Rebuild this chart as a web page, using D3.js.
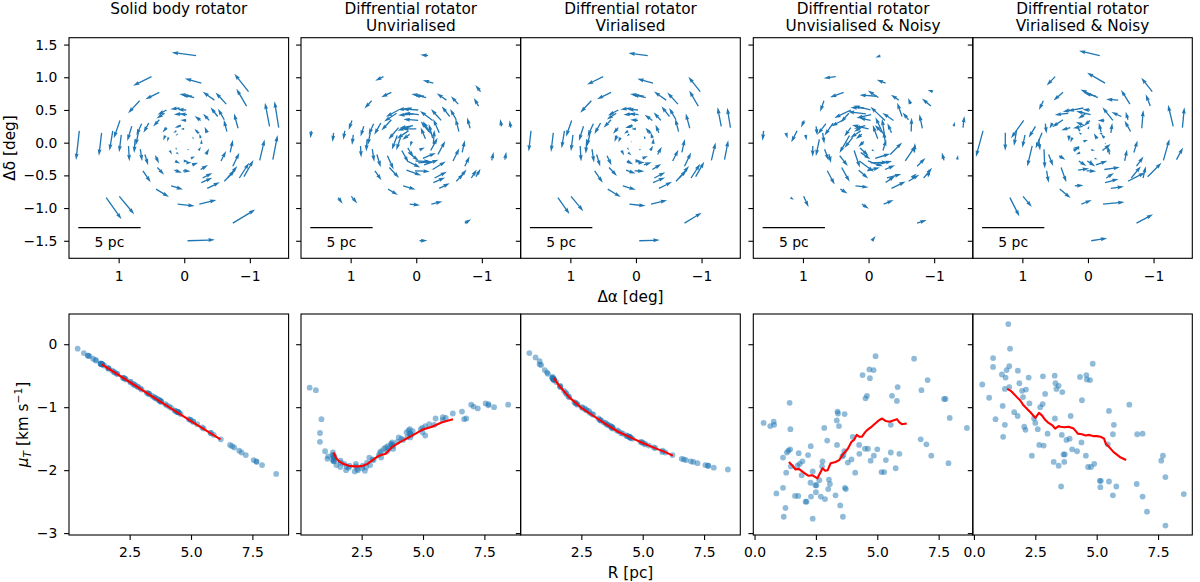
<!DOCTYPE html>
<html><head><meta charset="utf-8">
<script src="https://cdn.jsdelivr.net/npm/d3@7"></script>
<style>body{margin:0;background:#fff}</style>
</head><body>
<svg id="c" width="1200" height="582" xmlns="http://www.w3.org/2000/svg"></svg>
<script>
// ---------------- DATA ----------------
const titles = [["Solid body rotator"], ["Diffrential rotator", "Unvirialised"], ["Diffrential rotator", "Virialised"],
  ["Diffrential rotator", "Unvisialised & Noisy"], ["Diffrential rotator", "Virialised & Noisy"]];

// star offsets on the sky (deg)
const starRA = [-0.18,0.50,-0.26,-0.98,0.38,-0.15,-0.12,-0.46,-0.64,-0.95,
 -1.30,-1.44,0.68,0.98,1.09,1.26,1.60,0.96,0.65,0.38,
 0.27,0.30,0.07,0.04,0.27,0.54,0.70,0.29,0.12,0.08,
 -0.51,-0.61,-0.82,-0.65,-0.38,-0.25,-0.35,-0.03,-0.04,-0.03,
 0.00,-0.20,-0.25,-0.26,0.01,-0.03,0.02,-0.25,-0.28,-0.26,
 -0.35,0.10,-0.23,-0.74,-0.05,-0.61,-0.66,-0.84,-0.91,-0.74,
 -0.56,-1.15,-1.35,-0.33,1.19,0.99,0.67,0.60,0.63,0.44,
 0.41,0.43,0.20,0.14,0.12,0.15,-0.12,0.80,0.75,0.85,
 -0.70,0.07,-0.05,0.13,-0.14,0.10,0.22,-0.22,0.24,-0.10,
 0.05,-0.22];
const starDec = [1.33,1.01,0.91,0.78,0.77,0.69,0.71,0.65,0.59,0.56,
 0.25,0.23,0.64,0.34,0.18,0.15,0.18,0.12,0.29,0.35,
 0.50,0.45,0.53,0.44,0.23,0.30,0.15,0.11,0.18,0.25,
 0.40,0.35,0.22,0.17,0.34,0.34,0.15,0.50,0.43,0.34,
 0.21,0.16,0.07,-0.02,-0.28,-0.31,-0.43,-0.41,-0.54,-0.61,
 -0.70,-0.94,-0.94,-1.23,-1.50,-0.59,-0.54,-0.54,-0.52,-0.36,
 -0.28,-0.27,-0.26,-0.18,-0.84,-0.82,-0.10,-0.18,-0.43,-0.20,
 -0.38,-0.71,-0.66,-0.28,-0.15,-0.42,-0.34,0.25,0.05,-0.05,
 -0.15,0.02,-0.11,-0.08,0.06,0.13,-0.12,-0.12,0.08,-0.24,
 0.26,0.14];

// tangential velocity mu_T (km/s) per star
const muSolid = [-1.72,-1.44,-1.20,-1.60,-1.09,-0.89,-0.91,-1.01,-1.11,-1.41,
 -1.69,-1.87,-1.19,-1.32,-1.41,-1.62,-2.06,-1.23,-0.90,-0.65,
 -0.72,-0.68,-0.67,-0.55,-0.44,-0.78,-0.91,-0.38,-0.26,-0.32,
 -0.82,-0.89,-1.08,-0.85,-0.64,-0.53,-0.47,-0.63,-0.54,-0.42,
 -0.25,-0.31,-0.32,-0.32,-0.34,-0.38,-0.54,-0.60,-0.77,-0.84,
 -0.99,-1.20,-1.23,-1.84,-1.92,-1.08,-1.08,-1.27,-1.34,-1.05,
 -0.79,-1.51,-1.76,-0.47,-1.86,-1.64,-0.86,-0.79,-0.97,-0.60,
 -0.70,-1.06,-0.87,-0.39,-0.23,-0.56,-0.45,-1.07,-0.95,-1.08,
 -0.91,-0.07,-0.14,-0.18,-0.18,-0.19,-0.31,-0.31,-0.31,-0.32,
 -0.32,-0.32];
const muDiffUnvir = [-0.99,-1.17,-1.40,-1.07,-1.44,-1.60,-1.66,-1.52,-1.38,-1.20,
 -0.96,-0.95,-1.35,-1.28,-1.16,-1.19,-0.96,-1.30,-1.56,-1.88,
 -1.84,-1.92,-1.80,-1.98,-2.00,-1.72,-1.62,-1.95,-1.78,-1.83,
 -1.66,-1.58,-1.42,-1.70,-1.95,-2.02,-1.93,-2.01,-1.94,-1.90,
 -1.82,-1.77,-1.86,-1.80,-1.92,-1.85,-1.90,-1.97,-1.76,-1.64,
 -1.50,-1.33,-1.45,-0.94,-1.00,-1.35,-1.42,-1.27,-1.18,-1.40,
 -1.80,-1.10,-1.02,-1.96,-0.97,-1.18,-1.62,-1.70,-1.48,-1.93,
 -1.83,-1.47,-1.66,-1.88,-1.70,-2.00,-1.95,-1.37,-1.55,-1.48,
 -1.60,-0.69,-0.73,-1.41,-1.55,-1.19,-1.76,-1.84,-1.72,-1.80,
 -1.78,-1.86];
const muDiffVir = [-1.87,-1.72,-1.56,-1.82,-1.49,-1.31,-1.34,-1.42,-1.50,-1.71,
 -1.86,-1.93,-1.55,-1.64,-1.69,-1.83,-1.99,-1.59,-1.33,-1.05,
 -1.12,-1.09,-1.06,-0.95,-0.77,-1.20,-1.32,-0.66,-0.47,-0.56,
 -1.24,-1.30,-1.47,-1.27,-1.04,-0.92,-0.84,-1.02,-0.94,-0.74,
 -0.45,-0.55,-0.56,-0.55,-0.60,-0.67,-0.93,-1.00,-1.18,-1.25,
 -1.41,-1.56,-1.58,-1.92,-1.96,-1.47,-1.48,-1.61,-1.65,-1.45,
 -1.21,-1.76,-1.89,-0.83,-1.93,-1.84,-1.28,-1.21,-1.38,-1.01,
 -1.11,-1.46,-1.29,-0.68,-0.41,-0.96,-0.79,-1.46,-1.37,-1.48,
 -1.32,-0.14,-0.21,-0.27,-0.32,-0.33,-0.53,-0.54,-0.52,-0.56,
 -0.57,-0.55];
// observational noise on the arrows of the noisy panels (tangential, radial; km/s)
const noiseT4 = [0.4,-0.3,0.2,0.5,-0.4,0.1,-0.5,0.3,0.6,-0.2,0.4,-0.5,0.0,0.3,-0.4,0.5,-0.3,0.6,-0.1,0.2,
 -0.5,0.4,0.1,-0.3,0.6,-0.2,0.3,-0.6,0.2,0.5,-0.1,0.4,-0.4,0.0,0.3,-0.5,0.6,-0.2,0.1,0.4,
 -0.3,0.5,-0.6,0.2,0.0,-0.4,0.3,0.6,-0.1,0.2,-0.5,0.4,0.1,-0.3,0.5,-0.2,0.6,-0.4,0.3,0.0,
 -0.6,0.2,0.4,-0.1,0.5,-0.3,0.1,0.6,-0.5,0.3,-0.2,0.4,0.0,-0.4,0.2,0.5,-0.1,0.3,-0.6,0.1,
 0.4,-0.2,0.5,0.0,-0.3,0.2,-0.5,0.4,0.1,-0.2,0.3,-0.4];
const noiseR4 = [-0.3,0.5,0.1,-0.4,0.2,0.6,-0.2,0.0,0.3,-0.5,0.2,0.4,-0.6,0.1,0.5,-0.3,0.0,-0.2,0.4,0.6,
 0.1,-0.4,0.3,0.5,-0.1,0.2,-0.5,0.4,0.0,-0.3,0.6,-0.2,0.1,0.5,-0.4,0.3,0.0,0.4,-0.6,0.2,
 0.5,-0.1,0.3,-0.4,0.6,0.1,-0.5,0.2,0.4,-0.3,0.0,0.5,-0.2,0.3,-0.6,0.4,0.1,0.2,-0.4,0.5,
 0.3,-0.5,0.0,0.6,-0.2,0.4,-0.3,0.1,0.2,-0.4,0.5,0.0,-0.3,0.4,-0.1,0.6,0.2,-0.5,0.3,0.1,
 -0.2,0.5,0.3,-0.4,0.1,0.0,0.4,-0.3,0.6,0.2,-0.1,0.3];
const noiseT5 = [-0.2,0.6,-0.4,0.1,0.3,-0.5,0.2,0.4,-0.1,0.5,-0.3,0.0,0.6,-0.4,0.2,0.1,-0.6,0.3,0.5,-0.2,
 0.4,-0.1,-0.5,0.2,0.0,0.6,-0.3,0.1,0.4,-0.4,0.3,0.5,-0.2,0.1,-0.6,0.4,0.0,0.3,-0.5,0.2,
 0.6,-0.3,0.1,0.4,-0.2,0.5,0.0,-0.4,0.3,-0.1,0.2,0.6,-0.5,0.1,0.4,-0.3,0.0,0.5,-0.2,0.3,
 0.1,-0.4,0.6,0.2,-0.1,0.5,-0.6,0.0,0.3,0.4,-0.3,0.1,0.5,-0.2,0.6,0.0,-0.4,0.2,0.3,-0.5,
 0.1,0.4,-0.1,0.6,-0.3,0.2,0.5,-0.4,0.0,0.3,-0.2,0.4];
const noiseR5 = [0.2,-0.4,0.5,0.0,-0.3,0.4,0.1,-0.6,0.3,0.2,-0.1,0.5,-0.3,0.6,0.0,-0.2,0.4,0.1,-0.5,0.3,
 0.2,0.6,-0.1,-0.4,0.5,0.0,0.3,-0.2,0.4,0.1,-0.5,0.2,0.6,-0.3,0.1,-0.4,0.5,0.0,0.2,-0.6,
 0.3,0.4,-0.2,0.1,0.5,-0.3,0.0,0.6,-0.1,0.2,0.4,-0.5,0.3,0.1,-0.2,0.6,0.0,-0.4,0.5,0.2,
 -0.3,0.1,0.4,-0.6,0.3,0.0,0.2,-0.1,0.5,-0.4,0.6,0.2,-0.3,0.1,0.4,-0.5,0.0,0.3,-0.2,0.6,
 0.1,-0.4,0.2,0.5,-0.1,0.3,-0.6,0.4,0.0,0.2,0.5,-0.3];

// noisy scatter panels (R [pc], mu_T [km/s])
const noisyUnvirR = [0.37,0.64,0.78,0.80,0.89,1.16,1.16,1.19,1.26,1.29,1.32,1.38,1.43,1.45,1.46,1.48,1.65,1.78,1.75,1.80,
 1.84,1.92,1.95,2.08,2.12,2.18,2.28,2.29,2.30,2.37,2.37,2.48,2.52,2.50,2.64,2.70,2.75,2.77,2.84,2.87,
 2.96,3.00,3.03,3.07,3.30,3.36,3.35,3.38,3.40,3.44,3.49,3.58,3.60,3.62,3.66,3.67,3.68,3.72,3.80,3.95,
 4.00,4.10,4.26,4.27,4.40,4.50,4.62,4.52,4.58,4.68,4.70,4.73,4.85,4.86,4.93,5.00,5.17,5.28,5.35,5.55,
 5.55,5.60,5.75,5.80,5.83,5.90,6.50,6.77,6.80,7.00,7.05,7.20,7.72,7.78,7.90,7.95,8.65];
const noisyUnvirMu = [-1.25,-1.30,-1.23,-1.28,-2.37,-2.28,-1.80,-2.74,-2.60,-2.04,-1.72,-1.69,-0.93,-1.67,-1.35,-1.94,-2.41,-2.41,-1.93,-1.73,
 -1.90,-2.08,-1.86,-2.50,-2.50,-1.76,-2.20,-1.62,-2.42,-2.02,-2.77,-2.24,-2.24,-2.35,-2.16,-2.42,-1.94,-1.86,-1.33,-2.46,
 -1.53,-2.30,-2.15,-2.22,-2.40,-1.60,-1.21,-1.07,-1.10,-1.30,-2.56,-1.78,-2.74,-1.76,-1.70,-1.11,-2.28,-2.30,-1.88,-1.83,
 -1.47,-2.04,-1.60,-1.74,-0.49,-1.66,-1.66,-0.86,-0.82,-0.40,-0.54,-1.85,-0.41,-1.77,-0.19,-1.67,-2.03,-2.03,-1.84,-1.28,
 -1.72,-0.82,-1.97,-0.90,-0.68,-1.74,-0.23,-1.51,-0.73,-1.59,-0.57,-1.77,-0.87,-0.87,-1.89,-1.17,-1.33];
const noisyVirR = [0.34,0.62,0.78,0.78,0.88,1.14,1.17,1.19,1.26,1.26,1.29,1.33,1.40,1.44,1.44,1.47,1.64,1.78,1.79,1.85,
 1.96,2.00,2.05,2.10,2.12,2.23,2.26,2.36,2.45,2.50,2.60,2.66,2.70,2.80,2.81,2.84,2.90,3.00,3.25,3.29,
 3.30,3.32,3.36,3.45,3.45,3.55,3.58,3.60,3.65,3.68,3.70,3.77,3.90,3.94,4.00,4.20,4.32,4.38,4.40,4.56,
 4.58,4.60,4.65,4.73,4.77,4.84,4.90,5.13,5.15,5.17,5.45,5.50,5.50,5.66,5.66,5.70,5.80,6.33,6.63,6.65,
 6.87,6.87,7.05,7.63,7.70,7.80,7.80,8.55];
const noisyVirMu = [-0.64,-0.85,-0.36,-0.22,-1.19,-0.48,-0.98,-1.47,-1.28,-0.71,-0.53,-0.41,0.32,-0.35,-0.68,-0.07,-1.08,-1.14,-0.42,-0.62,
 -0.74,-0.84,-1.31,-1.36,-0.72,-0.53,-0.94,-1.77,-1.18,-1.25,-1.35,-1.60,-1.00,-0.95,-0.51,-1.61,-0.79,-1.42,-1.87,-0.50,
 -1.18,-0.62,-0.71,-0.66,-1.93,-2.26,-1.44,-0.76,-1.75,-1.87,-1.75,-1.52,-1.50,-1.14,-1.67,-1.70,-0.52,-1.56,-0.89,-1.77,
 -0.49,-0.56,-1.95,-0.57,-1.95,-0.31,-1.90,-2.17,-2.27,-2.17,-1.59,-1.06,-2.18,-2.40,-1.43,-1.28,-2.26,-0.96,-2.22,-1.43,
 -1.42,-2.42,-2.66,-1.85,-1.77,-2.11,-2.88,-2.38];

// running-median lines (red)
const medSolidR = [1.37, 2.5, 3.75, 5.0, 6.2];
const medSolidMu = [-0.32, -0.60, -0.91, -1.22, -1.51];
const medUnvirR = [1.35,1.45,1.58,1.75,1.98,2.2,2.39,2.55,2.73,2.95,3.2,3.48,3.74,4.08,4.42,4.7,4.96,5.37,5.78,6.22];
const medUnvirMu = [-1.72,-1.80,-1.86,-1.90,-1.93,-1.94,-1.94,-1.93,-1.90,-1.84,-1.77,-1.74,-1.63,-1.55,-1.48,-1.42,-1.36,-1.31,-1.24,-1.19];
const medVirR = [1.38,1.6,2.0,2.5,3.0,3.5,4.0,4.5,5.0,5.5,5.9,6.23];
const medVirMu = [-0.54,-0.66,-0.84,-1.01,-1.14,-1.27,-1.39,-1.48,-1.57,-1.65,-1.71,-1.77];
const medNoisyUnvirR = [1.4,1.55,1.67,1.8,1.94,2.05,2.2,2.35,2.56,2.65,2.77,2.88,2.98,3.1,3.3,3.45,3.6,3.8,3.95,4.05,4.16,4.28,4.37,4.5,4.6,4.8,5.0,5.1,5.2,5.35,5.5,5.65,5.8,5.9,6.0,6.2];
const medNoisyUnvirMu = [-1.87,-1.93,-1.99,-1.98,-2.02,-2.05,-2.09,-2.08,-2.13,-2.06,-1.97,-2.01,-2.0,-1.89,-1.87,-1.84,-1.75,-1.66,-1.55,-1.52,-1.44,-1.47,-1.47,-1.40,-1.36,-1.30,-1.23,-1.20,-1.18,-1.22,-1.23,-1.21,-1.19,-1.24,-1.27,-1.26];
const medNoisyVirR = [1.36,1.5,1.6,1.75,1.88,2.0,2.15,2.3,2.5,2.65,2.77,2.9,3.04,3.2,3.31,3.45,3.52,3.7,3.86,4.06,4.15,4.23,4.4,4.55,4.7,4.89,5.0,5.16,5.3,5.37,5.5,5.68,5.85,5.98,6.2];
const medNoisyVirMu = [-0.71,-0.74,-0.78,-0.84,-0.89,-0.96,-1.02,-1.08,-1.17,-1.09,-1.13,-1.20,-1.25,-1.29,-1.34,-1.30,-1.31,-1.32,-1.31,-1.34,-1.38,-1.42,-1.43,-1.45,-1.44,-1.46,-1.46,-1.47,-1.50,-1.58,-1.63,-1.71,-1.76,-1.80,-1.84];

const topXTicks = [1, 0, -1];
const topYTicks = [1.5, 1.0, 0.5, 0.0, -0.5, -1.0, -1.5];
const botYTicks = [0, -1, -2, -3];
const botXTicks = [[2.5,5.0,7.5],[2.5,5.0,7.5],[2.5,5.0,7.5],[0.0,2.5,5.0,7.5],[0.0,2.5,5.0,7.5]];
const pcPerDeg = 5.26;

// ---------------- LAYOUT ----------------
const FONT = '"DejaVu Sans", sans-serif';
const BLUE = '#1f77b4';
const svg = d3.select('#c');
const colX = [69, 301, 520.7, 753.3, 972.7];
const PW = 219.6;
const topY = 37.7, topH = 220.6, botY = 314, botH = 221;
const TICK = 4.9, LW = 1.1;
const minus = s => s.replace(/-/g, '\u2212');

function styleAxis(g){
  g.select('.domain').remove();
  g.attr('font-family', null).attr('font-size', null);
  g.selectAll('line').attr('stroke', '#000').attr('stroke-width', LW);
  g.selectAll('text').attr('font-family', FONT).attr('font-size', 13.9).attr('fill', '#000');
}
function frame(x0, y0, w, h){
  svg.append('rect').attr('x', x0).attr('y', y0).attr('width', w).attr('height', h)
    .attr('fill', 'none').attr('stroke', '#000').attr('stroke-width', LW);
}

const defs = svg.append('defs');

// -------- top row: quiver --------
const velT = [muSolid, muDiffUnvir, muDiffVir, muDiffUnvir.map((m,i)=>m+noiseT4[i]), muDiffVir.map((m,i)=>m+noiseT5[i])];
const velR = [null, null, null, noiseR4, noiseR5];

function arrowPath(L, w){
  const hl = 5*w, hal = 4.5*w, hw = 1.5*w, sw = w/2;
  let s = 1, Lp = L;
  if (L < hl){ s = L/hl; Lp = hl; }
  const pts = [[0,-sw],[Lp-hal,-sw],[Lp-hl,-hw],[Lp,0],[Lp-hl,hw],[Lp-hal,sw],[0,sw]];
  return 'M' + pts.map(p => (p[0]*s).toFixed(2)+','+(p[1]*s).toFixed(2)).join('L') + 'Z';
}

for (let p = 0; p < 5; p++){
  const x0 = colX[p];
  const x = d3.scaleLinear().domain([1.757, 1.757 - PW/65.6]).range([x0, x0+PW]);
  const y = d3.scaleLinear().domain([-1.768, 1.605]).range([topY+topH, topY]);
  const cid = 'clipT'+p;
  defs.append('clipPath').attr('id', cid).append('rect').attr('x', x0).attr('y', topY).attr('width', PW).attr('height', topH);
  const g = svg.append('g').attr('clip-path', `url(#${cid})`);
  const N = starRA.length;
  const vecs = starRA.map((ra, i) => {
    const dec = starDec[i];
    const R = Math.hypot(ra, dec);
    const sx = -ra/R, sy = dec/R;
    const tx = -sy, ty = sx;
    const vt = -velT[p][i];
    const vr = velR[p] ? velR[p][i] : 0;
    return {ra, dec, vx: vt*tx + vr*sx, vy: vt*ty + vr*sy};
  });
  const amean = d3.mean(vecs, v => Math.hypot(v.vx, v.vy));
  const sn = Math.max(10, Math.sqrt(N));
  const k = PW / (1.8 * amean * sn);
  const w = 0.06 * PW / sn;
  g.selectAll('path.arr').data(vecs).join('path').attr('class', 'arr')
    .attr('d', v => arrowPath(Math.hypot(v.vx, v.vy)*k, w))
    .attr('transform', v => `translate(${x(v.ra)},${y(v.dec)}) rotate(${Math.atan2(-v.vy, v.vx)*180/Math.PI})`)
    .attr('fill', BLUE);
  // scale bar
  svg.append('line').attr('x1', x(1.615)).attr('x2', x(0.665)).attr('y1', y(-1.30)).attr('y2', y(-1.30))
    .attr('stroke', '#000').attr('stroke-width', 1.3);
  svg.append('text').attr('x', x(1.14)).attr('y', y(-1.59)).attr('text-anchor', 'middle')
    .attr('font-family', FONT).attr('font-size', 13.9).text('5 pc');
  // axes
  const ax = svg.append('g').attr('transform', `translate(0,${topY+topH})`)
    .call(d3.axisBottom(x).tickValues(topXTicks).tickSize(TICK).tickPadding(7.7).tickFormat(d => minus(d3.format('d')(d))));
  styleAxis(ax);
  const ay = svg.append('g').attr('transform', `translate(${x0},0)`)
    .call(d3.axisLeft(y).tickValues(topYTicks).tickSize(TICK).tickPadding(6.8).tickFormat(d => p === 0 ? minus(d3.format('.1f')(d)) : ''));
  styleAxis(ay);
  frame(x0, topY, PW, topH);
  // title
  const t = svg.append('text').attr('text-anchor', 'middle').attr('font-family', FONT).attr('font-size', 15.3);
  titles[p].forEach((line, j) => t.append('tspan').attr('x', x0 + PW/2).attr('y', 14.4 + j*17.0).text(line));
}

// -------- bottom row: scatter --------
const starR = starRA.map((ra, i) => Math.hypot(ra, starDec[i]) * pcPerDeg);
const scat = [
  {r: starR, mu: muSolid, mr: medSolidR, mm: medSolidMu},
  {r: starR, mu: muDiffUnvir, mr: medUnvirR, mm: medUnvirMu},
  {r: starR, mu: muDiffVir, mr: medVirR, mm: medVirMu},
  {r: noisyUnvirR, mu: noisyUnvirMu, mr: medNoisyUnvirR, mm: medNoisyUnvirMu},
  {r: noisyVirR, mu: noisyVirMu, mr: medNoisyVirR, mm: medNoisyVirMu}
];
for (let p = 0; p < 5; p++){
  const x0 = colX[p];
  const lo = p < 3 ? 0.03 : -0.05;
  const x = d3.scaleLinear().domain([lo, lo + PW/24.55]).range([x0, x0+PW]);
  const y = d3.scaleLinear().domain([-3.03, 0.48]).range([botY+botH, botY]);
  const cid = 'clipB'+p;
  defs.append('clipPath').attr('id', cid).append('rect').attr('x', x0).attr('y', botY).attr('width', PW).attr('height', botH);
  const g = svg.append('g').attr('clip-path', `url(#${cid})`);
  const S = scat[p];
  g.selectAll('circle').data(S.r.map((r, i) => [r, S.mu[i]])).join('circle')
    .attr('cx', d => x(d[0])).attr('cy', d => y(d[1])).attr('r', 2.9)
    .attr('fill', BLUE).attr('fill-opacity', 0.5);
  g.append('path').datum(S.mr.map((r, i) => [r, S.mm[i]]))
    .attr('d', d3.line().x(d => x(d[0])).y(d => y(d[1])))
    .attr('fill', 'none').attr('stroke', '#ff0000').attr('stroke-width', 2.1).attr('stroke-linejoin', 'round');
  const ax = svg.append('g').attr('transform', `translate(0,${botY+botH})`)
    .call(d3.axisBottom(x).tickValues(botXTicks[p]).tickSize(TICK).tickPadding(7.7).tickFormat(d => d3.format('.1f')(d)));
  styleAxis(ax);
  const ay = svg.append('g').attr('transform', `translate(${x0},0)`)
    .call(d3.axisLeft(y).tickValues(botYTicks).tickSize(TICK).tickPadding(6.8).tickFormat(d => p === 0 ? minus(d3.format('d')(d)) : ''));
  styleAxis(ay);
  frame(x0, botY, PW, botH);
}

// -------- axis labels --------
svg.append('text').attr('x', 630.5).attr('y', 301.5).attr('text-anchor', 'middle')
  .attr('font-family', FONT).attr('font-size', 15.3).text('\u0394\u03b1 [deg]');
svg.append('text').attr('x', 630.5).attr('y', 578).attr('text-anchor', 'middle')
  .attr('font-family', FONT).attr('font-size', 15.3).text('R [pc]');
svg.append('text').attr('transform', 'translate(14.5,148) rotate(-90)').attr('text-anchor', 'middle')
  .attr('font-family', FONT).attr('font-size', 15.3).text('\u0394\u03b4 [deg]');
const yl = svg.append('text').attr('transform', 'translate(27.5,424.5) rotate(-90)').attr('text-anchor', 'middle')
  .attr('font-family', FONT).attr('font-size', 15.3);
yl.append('tspan').attr('font-style', 'italic').text('\u03bc');
yl.append('tspan').attr('font-style', 'italic').attr('font-size', 10.7).attr('dy', 3).text('T');
yl.append('tspan').attr('dy', -3).text(' [km s');
yl.append('tspan').attr('font-size', 10.7).attr('dy', -6).text('\u22121');
yl.append('tspan').attr('dy', 6).text(']');
</script>
</body></html>
